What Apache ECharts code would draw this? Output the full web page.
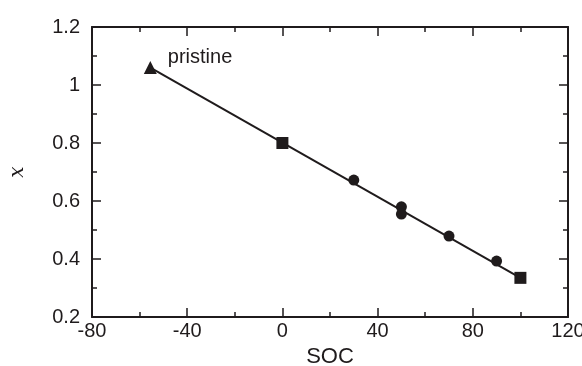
<!DOCTYPE html>
<html><head><meta charset="utf-8">
<script src="https://cdn.jsdelivr.net/npm/echarts@6/dist/echarts.min.js"></script>
<style>html,body{margin:0;padding:0;background:#fff}#c{width:582px;height:366px}</style>
</head><body><div id="c"></div>
<script>
const pristine = [[-55.5, 1.06]];
const squares = [[0, 0.80], [100, 0.335]];
const circles = [[30, 0.672], [50, 0.580], [50, 0.555], [70, 0.479], [90, 0.393]];
const fitLine = [[-55.5, 1.06], [100, 0.335]];
const xTicks = {min: -80, max: 120, interval: 40};
const yTicks = {min: 0.2, max: 1.2, interval: 0.2};

const C = '#1f1b1c';
const F = 'Liberation Sans, Arial, sans-serif';
function axisBase(show, margin) {
  return {
    axisLine: {show: true, onZero: false, lineStyle: {color: C, width: 2}},
    axisTick: {show: true, inside: true, length: 9, lineStyle: {color: C, width: 1.5}},
    minorTick: {show: true, splitNumber: 2, length: 5, lineStyle: {color: C, width: 1.5}},
    splitLine: {show: false},
    axisLabel: {show: show, color: C, fontSize: 20, fontFamily: F, margin: margin || 8},
  };
}
const chart = echarts.init(document.getElementById('c'));
chart.setOption({
  animation: false,
  grid: {left: 92, right: 14, top: 27, bottom: 49, outerBoundsMode: 'none', containLabel: false},
  xAxis: [
    Object.assign({type: 'value', position: 'bottom', min: xTicks.min, max: xTicks.max, interval: xTicks.interval,
      name: 'SOC', nameLocation: 'middle', nameGap: 22,
      nameTextStyle: {color: C, fontSize: 22, fontFamily: F}}, axisBase(true, 4)),
    Object.assign({type: 'value', position: 'top', min: xTicks.min, max: xTicks.max, interval: xTicks.interval}, axisBase(false))
  ],
  yAxis: [
    Object.assign({type: 'value', position: 'left', min: yTicks.min, max: yTicks.max, interval: yTicks.interval,
      name: 'x', nameLocation: 'middle', nameGap: 64,
      nameTextStyle: {color: C, fontSize: 20, fontFamily: 'DejaVu Serif, serif', fontStyle: 'italic'}}, axisBase(true, 12)),
    Object.assign({type: 'value', position: 'right', min: yTicks.min, max: yTicks.max, interval: yTicks.interval}, axisBase(false))
  ],
  series: [
    {type: 'line', data: fitLine, symbol: 'none', lineStyle: {color: C, width: 2}, z: 1},
    {type: 'scatter', data: pristine, symbol: 'triangle', symbolSize: 13, itemStyle: {color: C, opacity: 1},
      label: {show: true, formatter: 'pristine', position: 'right', offset: [6, -10], color: C, fontSize: 20, fontFamily: F, opacity: 1}},
    {type: 'scatter', data: squares, symbol: 'rect', symbolSize: 12, itemStyle: {color: C, opacity: 1}},
    {type: 'scatter', data: circles, symbol: 'circle', symbolSize: 11, itemStyle: {color: C, opacity: 1}}
  ]
});
</script></body></html>
